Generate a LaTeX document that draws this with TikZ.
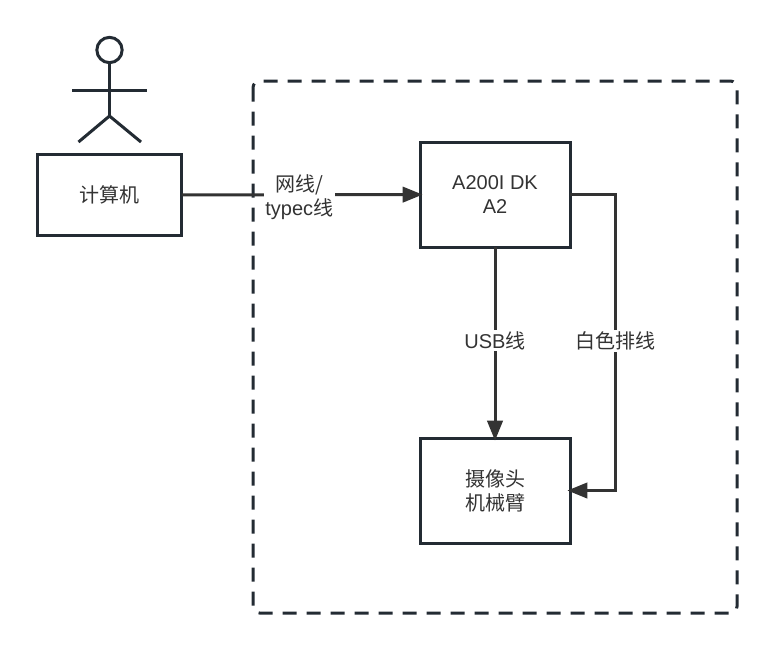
\documentclass[tikz,border=0pt]{standalone}
\usepackage{fontspec}
\setmainfont{Liberation Sans}
\newfontfamily\cjk{Noto Sans CJK SC}
\usetikzlibrary{arrows.meta}
\definecolor{ink}{HTML}{333333}
\definecolor{edge}{HTML}{232B33}
\tikzset{
  px/.style={x=0.75pt,y=-0.75pt},
  boxn/.style={draw=edge,line width=2.25pt,fill=white,text=ink,align=center,inner sep=0pt,outer sep=0pt,font=\fontsize{15pt}{18pt}\selectfont},
  link/.style={draw=ink,line width=2.25pt,shorten >=-2pt,-{Triangle[length=15pt,width=11.5pt]}},
  plain/.style={draw=edge,line width=2.25pt},
  lab/.style={fill=white,text=ink,align=center,inner sep=1pt,font=\fontsize{15pt}{18pt}\selectfont},
}
\begin{document}
\begin{tikzpicture}[px]
\useasboundingbox[fill=white] (0,0) rectangle (774,651);
\draw[edge,line width=2.25pt,dash pattern=on 10.5pt off 7.5pt,rounded corners=5pt] (253,81) rectangle (737,613);
\node[boxn,minimum width=108pt,minimum height=60.75pt] (pc) at (109.5,195) {\raisebox{-1pt}{\cjk 计算机}};
\node[boxn,minimum width=112.5pt,minimum height=78.75pt] (dk) at (495,194.5) {\raisebox{-1pt}{A200I DK}\\\raisebox{-1pt}{A2}};
\node[boxn,minimum width=112.5pt,minimum height=78.75pt] (cam) at (495,490.5) {\cjk 摄像头\\\cjk 机械臂};
\node[draw=edge,line width=2.25pt,circle,minimum size=19pt,inner sep=0pt,outer sep=0pt] (head) at (109.5,50) {};
\coordinate (hip) at (109.5,116);
\coordinate (armL) at (72,90);
\coordinate (armR) at (147,90);
\coordinate (legL) at (78.5,142);
\coordinate (legR) at (141,142);
\draw[plain] (head) -- (hip);
\draw[plain] (armL) -- (armR);
\draw[plain] (legL) -- (hip) -- (legR);
\draw[link] (pc) -- (dk) node[lab,pos=0.494,yshift=-1.5pt] {\cjk 网线/\\typec\cjk 线};
\draw[link] (dk) -- (cam) node[lab,midway,yshift=1.5pt] {USB\cjk 线};
\coordinate (c1) at (615,194.5);
\coordinate (c2) at (615,490.5);
\draw[link] (dk.east) -- (c1) -- (c2) -- (cam.east);
\node[lab] (wl) at (615,341) {\cjk 白色排线};
\end{tikzpicture}
\end{document}
